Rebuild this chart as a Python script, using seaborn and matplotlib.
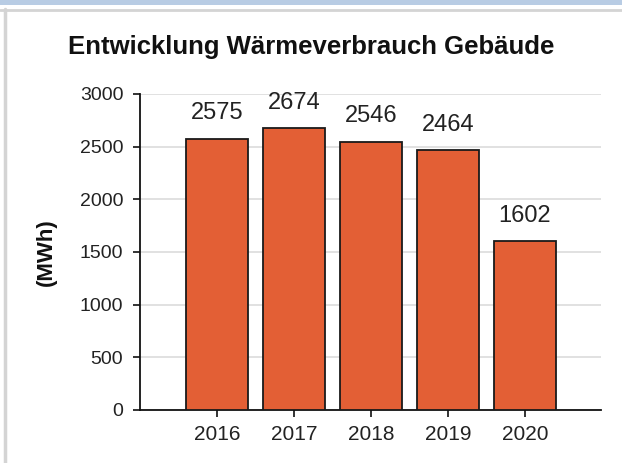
import numpy as np
import pandas as pd
import seaborn as sns
import matplotlib.pyplot as plt
from matplotlib.patches import Rectangle
from matplotlib.lines import Line2D

# data
years = ['2016', '2017', '2018', '2019', '2020']
verbrauch = [2575, 2674, 2546, 2464, 1602]
y_ticks = [0, 500, 1000, 1500, 2000, 2500, 3000]

df = pd.DataFrame({'Jahr': years, 'MWh': verbrauch})

sns.set_style('white')
plt.rcParams['font.family'] = ['Liberation Sans', 'DejaVu Sans']

fig = plt.figure(figsize=(6.22, 4.63), dpi=100)
ax = fig.add_axes([140 / 622, 1 - 410 / 463, 461 / 622, 316 / 463])

# window frame around the chart
fig.patches.append(Rectangle((0, 1 - 5 / 463), 1, 5 / 463, transform=fig.transFigure,
                             facecolor='#b8cce4', edgecolor='none'))
fig.lines.append(Line2D([0, 1], [1 - 10 / 463] * 2, transform=fig.transFigure,
                        color='#d4d4d4', lw=2))
fig.lines.append(Line2D([5 / 622] * 2, [0, 1 - 9 / 463], transform=fig.transFigure,
                        color='#d4d4d4', lw=2.5))

sns.barplot(data=df, x='Jahr', y='MWh', color='#e35f35', saturation=1,
            width=0.8, edgecolor='#1a1a1a', linewidth=1.3, ax=ax, zorder=3)

for i, v in enumerate(verbrauch):
    ax.text(i, v + 140, str(v), ha='center', va='bottom', fontsize=17,
            color='#222222', clip_on=False)

ax.set_xlim(-1.0, 4.99)
ax.set_ylim(0, 3000)
ax.set_yticks(y_ticks)
ax.yaxis.grid(True, color='#dcdcdc', lw=1.2, zorder=0)
ax.set_axisbelow(True)

for s in ['top', 'right']:
    ax.spines[s].set_visible(False)
for s in ['left', 'bottom']:
    ax.spines[s].set_color('#111111')
    ax.spines[s].set_linewidth(1.3)

ax.tick_params(axis='both', which='both', length=5, width=1.2, color='#111111',
               labelcolor='#222222', direction='out')
ax.tick_params(axis='both', left=True, bottom=True)
ax.tick_params(axis='x', pad=6, labelsize=15)
ax.tick_params(axis='y', pad=7, labelsize=14)

ax.set_xlabel('')
ax.set_ylabel('(MWh)', fontsize=16, fontweight='bold', color='#111111')
ax.yaxis.set_label_coords(-(140 - 57) / 461, (410 - 252) / 316)

fig.text(311 / 622, 1 - 47 / 463, 'Entwicklung Wärmeverbrauch Gebäude',
         ha='center', va='center', fontsize=18.5, fontweight='bold', color='#111111')

fig.savefig('out.png', dpi=100, facecolor='white')
